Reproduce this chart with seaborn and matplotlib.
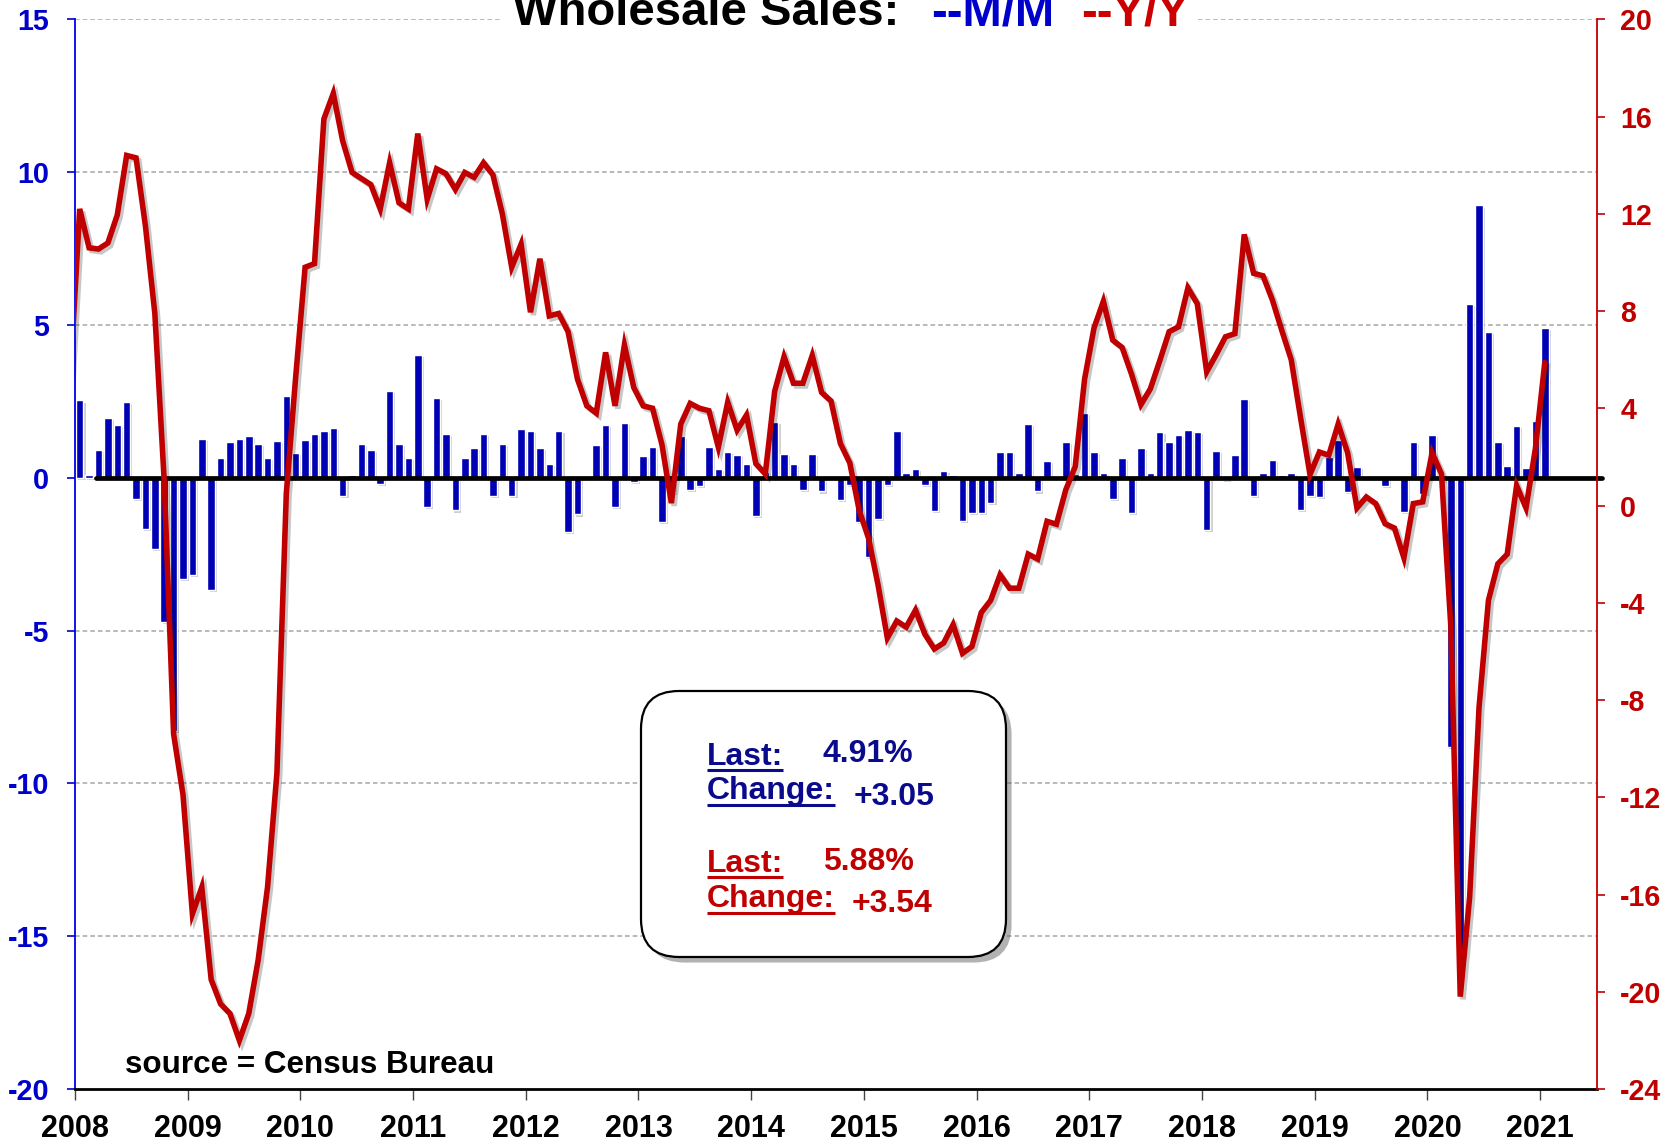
import numpy as np
import pandas as pd
import matplotlib
matplotlib.use("Agg")
import matplotlib.pyplot as plt
import matplotlib.patheffects as pe
from matplotlib.patches import FancyBboxPatch, Rectangle
from matplotlib.lines import Line2D
import seaborn as sns

# ---------------- data ----------------
start_year = 2008
# Wholesale sales M/M % change, Jan 2008 .. Jan 2021 (left axis, bars)
mm_values = [
    2.53, 0.08, 0.90, 1.97, 1.72, 2.48, -0.70, -1.67, -2.33, -4.73, -8.30, -3.32,
    -3.18, 1.27, -3.68, 0.66, 1.16, 1.27, 1.37, 1.11, 0.66, 1.20, 2.67, 0.81,
    1.22, 1.42, 1.52, 1.63, -0.60, 0.09, 1.11, 0.90, -0.19, 2.85, 1.11, 0.66,
    4.03, -0.96, 2.60, 1.42, -1.07, 0.66, 0.97, 1.42, -0.60, 1.11, -0.60, 1.58,
    1.52, 0.97, 0.44, 1.52, -1.78, -1.20, 0.05, 1.07, 1.72, -0.96, 1.78, -0.14,
    0.71, 1.01, -1.46, -0.50, 1.35, -0.40, -0.28, 1.01, 0.28, 0.84, 0.75, 0.44,
    -1.26, 0.20, 1.82, 0.79, 0.44, -0.39, 0.79, -0.45, 0.05, -0.73, -0.23, -1.45,
    -2.59, -1.35, -0.23, 1.52, 0.17, 0.28, -0.23, -1.09, 0.23, 0.09, -1.41, -1.15,
    -1.15, -0.84, 0.84, 0.84, 0.17, 1.77, -0.45, 0.54, 0.05, 1.16, 0.11, 2.12,
    0.84, 0.17, -0.70, 0.64, -1.16, 0.96, 0.17, 1.50, 1.16, 1.41, 1.57, 1.50,
    -1.72, 0.89, -0.08, 0.73, 2.59, -0.59, 0.17, 0.59, 0.08, 0.17, -1.05, -0.59,
    -0.64, 0.68, 1.22, -0.48, 0.34, -0.05, -0.05, -0.28, -0.05, -1.13, 1.18, -0.53,
    1.41, -0.10, -8.80, -15.80, 5.68, 8.91, 4.78, 1.18, 0.38, 1.69, 0.32, 1.86,
    4.91,
]
# Wholesale sales Y/Y % change, Dec 2007 .. Jan 2021 (right axis, line)
yy_values = [
    5.3,
    12.2, 10.6, 10.55, 10.8, 11.95, 14.4, 14.3, 11.5, 7.9, 1.0, -9.4, -11.9,
    -16.8, -15.7, -19.5, -20.5, -20.9, -22.0, -20.9, -18.7, -15.7, -11.0, 0.5, 5.3,
    9.8, 9.95, 15.9, 16.95, 15.0, 13.7, 13.45, 13.2, 12.2, 14.1, 12.45, 12.2,
    15.3, 12.6, 13.85, 13.65, 13.0, 13.7, 13.5, 14.1, 13.6, 12.0, 9.8, 10.75,
    7.95, 10.15, 7.8, 7.9, 7.15, 5.2, 4.1, 3.8, 6.3, 4.1, 6.6, 4.85,
    4.1, 4.0, 2.5, 0.1, 3.35, 4.2, 4.0, 3.9, 2.4, 4.25, 3.1, 3.72,
    1.72, 1.3, 4.7, 6.12, 5.03, 5.03, 6.17, 4.65, 4.3, 2.55, 1.75, -0.2,
    -1.35, -3.25, -5.45, -4.75, -5.0, -4.3, -5.3, -5.9, -5.65, -4.9, -6.08, -5.8,
    -4.4, -3.9, -2.85, -3.4, -3.4, -2.0, -2.2, -0.65, -0.77, 0.65, 1.6, 5.2,
    7.3, 8.4, 6.8, 6.5, 5.4, 4.15, 4.8, 5.95, 7.15, 7.35, 8.95, 8.3,
    5.5, 6.2, 6.94, 7.07, 11.15, 9.55, 9.45, 8.45, 7.2, 6.0, 3.6, 1.27,
    2.2, 2.07, 3.35, 2.18, -0.1, 0.35, 0.08, -0.75, -0.93, -2.15, 0.08, 0.15,
    2.17, 1.3, -5.0, -20.2, -16.1, -8.3, -3.9, -2.4, -2.0, 0.82, -0.1, 2.34,
    5.88,
]
year_ticks = list(range(2008, 2022))
left_ticks = [-20, -15, -10, -5, 0, 5, 10, 15]
right_ticks = list(range(-24, 21, 4))
grid_levels = [-15, -10, -5, 5, 10, 15]

title_main = "Wholesale Sales:"
title_mm = "--M/M"
title_yy = "--Y/Y"
source_text = "source = Census Bureau"
mm_last, mm_change = "4.91%", "+3.05"
yy_last, yy_change = "5.88%", "+3.54"

# ---------------- style ----------------
BLUE_BAR = "#0000B4"
BLUE_TXT = "#0000CC"
NAVY = "#0A0A8C"
RED = "#C00000"
W, H = 1681, 1146

sns.set_theme(style="white")
plt.rcParams["font.family"] = ["Liberation Sans", "DejaVu Sans"]
plt.rcParams["font.weight"] = "bold"

fig = plt.figure(figsize=(W / 100, H / 100), dpi=100)
ax = fig.add_axes([75 / W, 1 - 1089 / H, (1597 - 75) / W, (1089 - 19.3) / H])
ax2 = ax.twinx()

mm_x = start_year + (np.arange(len(mm_values)) + 0.5) / 12.0
yy_x = start_year + (np.arange(len(yy_values)) - 0.5) / 12.0
df_mm = pd.DataFrame({"x": mm_x, "mm": mm_values})
df_yy = pd.DataFrame({"x": yy_x, "yy": yy_values})

# bars
sns.barplot(data=df_mm, x="x", y="mm", native_scale=True, width=0.8,
            color=BLUE_BAR, saturation=1, errorbar=None, ax=ax, zorder=2)
for p in ax.patches:
    p.set_path_effects([pe.withSimplePatchShadow(offset=(1.5, -1.5),
                                                 shadow_rgbFace="#777777", alpha=0.35)])

# gridlines
for g in grid_levels:
    ax.axhline(g, color="#A6A6A6", lw=1.1, ls=(0, (3, 2)), zorder=0.5)
# zero line
ax.axhline(0, xmin=0.0135, xmax=1.003, color="black", lw=3.4, zorder=4, clip_on=False)

# line
sns.lineplot(data=df_yy, x="x", y="yy", ax=ax2, color=RED, linewidth=4.0, sort=False)
for ln in ax2.lines:
    ln.set_path_effects([pe.SimpleLineShadow(offset=(2.0, -2.0), shadow_color="black", alpha=0.22),
                         pe.Normal()])
    ln.set_solid_joinstyle("miter")

# axes limits / ticks
ax.set_xlim(2008.0, 2021.505)
ax.set_ylim(-20, 15)
ax2.set_ylim(-24, 20)
ax.set_xlabel("")
ax.set_ylabel("")
ax2.set_xlabel("")
ax2.set_ylabel("")
ax.set_xticks(year_ticks)
ax.set_xticklabels([str(y) for y in year_ticks])
ax.set_yticks(left_ticks)
ax.set_yticklabels([str(t) for t in left_ticks])
ax2.set_yticks(right_ticks)
ax2.set_yticklabels([str(t) for t in right_ticks])

ax.tick_params(axis="x", direction="out", length=7.7, width=1.0, color="#444444",
               pad=10, labelsize=22, labelcolor="black", bottom=True)
ax.tick_params(axis="y", direction="out", length=5.8, width=1.2, color=BLUE_TXT,
               pad=13.0, labelsize=20.7, labelcolor=BLUE_TXT, left=True)
ax2.tick_params(axis="y", direction="out", length=5.8, width=1.2, color=RED,
                pad=11, labelsize=20.6, labelcolor=RED, right=True)
for lab in ax.get_xticklabels() + ax.get_yticklabels() + ax2.get_yticklabels():
    lab.set_fontweight("bold")

for s in ["top", "right"]:
    ax.spines[s].set_visible(False)
for s in ["top", "left", "bottom"]:
    ax2.spines[s].set_visible(False)
ax.spines["left"].set_color("#0000EE")
ax.spines["left"].set_linewidth(1.3)
ax.spines["bottom"].set_color("black")
ax.spines["bottom"].set_linewidth(2.0)
ax2.spines["right"].set_color(RED)
ax2.spines["right"].set_linewidth(1.3)

# ---------------- title ----------------
def fx(px):
    return px / W

def fy(py):
    return 1 - py / H

fig.add_artist(Rectangle((fx(500), fy(60)), fx(1198) - fx(500), fy(0) - fy(60),
                         transform=fig.transFigure, facecolor="white", edgecolor="none", zorder=5))
fig.text(fx(513), fy(25), title_main, color="black", fontsize=34, fontweight="bold",
         ha="left", va="baseline", zorder=6)
fig.text(fx(931), fy(25), title_mm, color=BLUE_TXT, fontsize=34, fontweight="bold",
         ha="left", va="baseline", zorder=6)
fig.text(fx(1081), fy(25), title_yy, color="#CC0000", fontsize=34, fontweight="bold",
         ha="left", va="baseline", zorder=6)

# source
fig.text(fx(125), fy(1073), source_text, color="black", fontsize=22.6, fontweight="bold",
         ha="left", va="baseline", zorder=6)

# ---------------- info box ----------------
bx0, by0, bx1, by1 = 641, 691, 1006, 957
box = FancyBboxPatch((fx(bx0), fy(by1)), fx(bx1) - fx(bx0), fy(by0) - fy(by1),
                     boxstyle="round,pad=0,rounding_size=%f" % (38 / W),
                     mutation_aspect=W / H, transform=fig.transFigure,
                     facecolor="white", edgecolor="black", lw=1.6, zorder=7)
box.set_path_effects([pe.withSimplePatchShadow(offset=(4, -4), shadow_rgbFace="#555555", alpha=0.45)])
fig.add_artist(box)

fs_box = 23
items = [
    ("Last:", 707, 765, NAVY, True, 5),
    (mm_last, 823, 762, NAVY, False, 0),
    ("Change:", 707, 799, NAVY, True, 6),
    (mm_change, 854, 805, NAVY, False, 0),
    ("Last:", 707, 872, RED, True, 5),
    (yy_last, 823, 870, RED, False, 0),
    ("Change:", 707, 907, RED, True, 6),
    (yy_change, 852, 912, RED, False, 0),
]
texts = []
for s, x, y, c, ul, off in items:
    t = fig.text(fx(x), fy(y), s, color=c, fontsize=fs_box, fontweight="bold",
                 ha="left", va="baseline", zorder=8)
    texts.append((t, x, y, c, ul, off))

fig.canvas.draw()
r = fig.canvas.get_renderer()
for t, x, y, c, ul, off in texts:
    if ul:
        bb = t.get_window_extent(renderer=r)
        x0 = bb.x0 / fig.dpi / fig.get_figwidth()
        x1 = bb.x1 / fig.dpi / fig.get_figwidth()
        fig.add_artist(Line2D([x0, x1], [fy(y + off), fy(y + off)], transform=fig.transFigure,
                              color=c, lw=2.2, zorder=8, solid_capstyle="butt"))

fig.savefig("out.png", dpi=100)
